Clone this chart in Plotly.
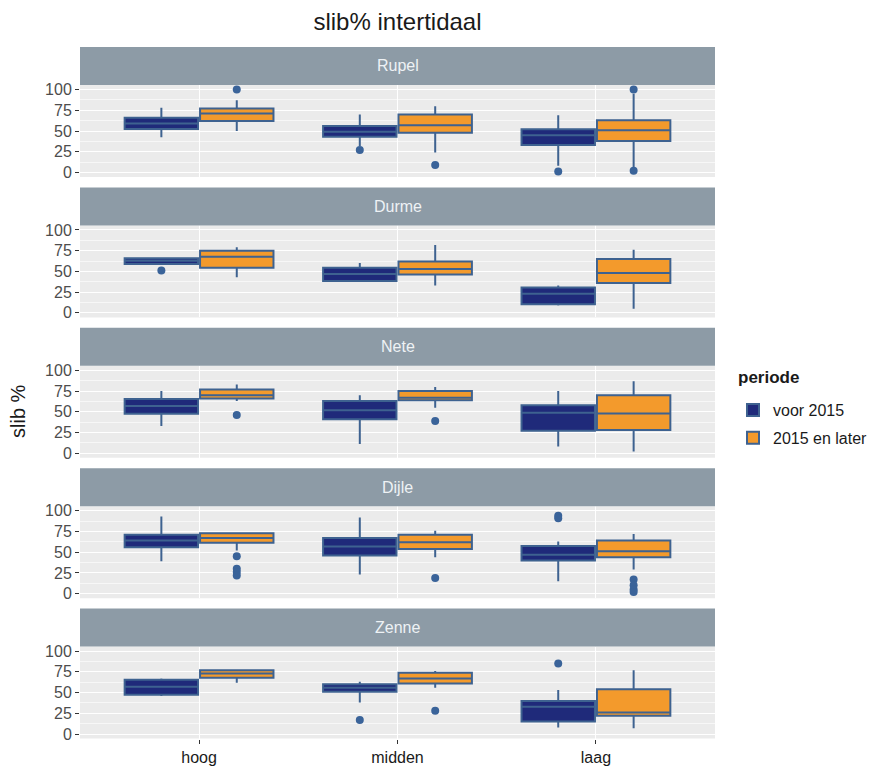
import plotly.graph_objects as go
from plotly.subplots import make_subplots

# Facets, x categories and groups
rivers = ["Rupel", "Durme", "Nete", "Dijle", "Zenne"]
zones = ["hoog", "midden", "laag"]
periods = ["voor 2015", "2015 en later"]
y_ticks = [0, 25, 50, 75, 100]

# Box statistics per river (rows) and zone (columns: hoog, midden, laag)
voor_lower = [[42.5, 32, 8], [59, 38.4, 9], [33, 11, 8], [39, 23, 15], [46, 38, 8]]
voor_q1 = [[52.5, 43, 33], [59, 38.4, 10.4], [47.5, 41, 27], [56, 46, 40], [47.5, 51, 15]]
voor_median = [[59, 49, 45], [63, 47, 23], [57, 52, 49], [64, 57, 47], [57, 56, 33]]
voor_q3 = [[66, 56, 52], [66, 54.5, 30.5], [65.5, 63, 58], [71, 67, 57.5], [65.5, 60, 40]]
voor_upper = [[78, 70, 69], [67, 60, 33], [75, 70, 75], [93, 92, 63], [67, 63, 53]]
voor_outliers = [
    [[], [27], [1]],
    [[51], [], []],
    [[], [], []],
    [[], [], [94, 91]],
    [[], [17], [85]],
]

later_lower = [[50, 24, 5], [43, 33, 5], [63, 55, 2], [52, 44, 29], [62, 56, 7]]
later_q1 = [[62, 48, 38], [54.5, 46.4, 36], [66, 64, 28], [61.5, 54, 44], [68, 61, 22]]
later_median = [[71, 57, 51], [67.6, 53, 48], [70, 67, 48], [67, 62, 51], [73, 67, 26]]
later_q3 = [[77, 70, 63], [75, 62, 65], [77, 75, 70], [73, 71, 64], [77, 74, 54]]
later_upper = [[87, 80, 95], [79, 82, 76], [83, 80, 87], [74, 76, 72], [78, 76, 77]]
later_outliers = [
    [[100], [9], [100, 2]],
    [[], [], []],
    [[46], [39], []],
    [[45, 30, 26, 22], [19], [17, 10, 5, 2]],
    [[], [28], []],
]

FILL = {"voor 2015": "#1f2a7a", "2015 en later": "#f39a2c"}
EDGE = "#3e6290"
POINT = "#3a6399"
STRIP_BG = "#8d9ba6"
PANEL_BG = "#ebebeb"
FONT = "Liberation Sans, Arial, sans-serif"

W, H = 882, 766
# panel geometry in pixels
LEFT, RIGHT = 80, 715
PANEL_TOP0, PANEL_H, STEP, STRIP_H = 85, 92, 140.4, 38

DODGE = 0.19
BOX_W = 0.37

stats = {
    "voor 2015": (voor_lower, voor_q1, voor_median, voor_q3, voor_upper, voor_outliers, -DODGE),
    "2015 en later": (later_lower, later_q1, later_median, later_q3, later_upper, later_outliers, DODGE),
}

fig = make_subplots(rows=len(rivers), cols=1)

for r, river in enumerate(rivers):
    row = r + 1
    for period in periods:
        lo, q1, med, q3, up, outs, off = stats[period]
        xs = [i + 1 + off for i in range(len(zones))]
        fig.add_trace(
            go.Box(
                x=xs,
                q1=q1[r], median=med[r], q3=q3[r],
                lowerfence=lo[r], upperfence=up[r],
                width=BOX_W,
                whiskerwidth=0,
                fillcolor=FILL[period],
                line=dict(color=EDGE, width=2),
                name=period,
                legendgroup=period,
                showlegend=(r == 0),
                boxpoints=False,
            ),
            row=row, col=1,
        )
        px, py = [], []
        for i, vals in enumerate(outs[r]):
            for v in vals:
                px.append(i + 1 + off)
                py.append(v)
        if px:
            fig.add_trace(
                go.Scatter(
                    x=px, y=py, mode="markers",
                    marker=dict(color=POINT, size=8),
                    showlegend=False, legendgroup=period,
                ),
                row=row, col=1,
            )

shapes = []
annotations = []
for r, river in enumerate(rivers):
    top = PANEL_TOP0 + STEP * r
    bottom = top + PANEL_H
    dom = [1 - bottom / H, 1 - top / H]
    xa = "xaxis" if r == 0 else f"xaxis{r + 1}"
    ya = "yaxis" if r == 0 else f"yaxis{r + 1}"
    last = r == len(rivers) - 1
    fig.layout[xa].update(
        domain=[LEFT / W, RIGHT / W],
        range=[0.4, 3.6],
        tickvals=[1, 2, 3],
        ticktext=zones,
        showticklabels=last,
        ticks="outside" if last else "",
        ticklen=4, tickwidth=1.2, tickcolor="#333333",
        tickfont=dict(size=16, color="#1a1a1a", family=FONT),
        showgrid=True, gridcolor="white", gridwidth=1.2,
        zeroline=False, showline=False, automargin=False,
        anchor=ya.replace("axis", ""),
    )
    fig.layout[ya].update(
        domain=dom,
        range=[-5.5, 105.5],
        tickvals=y_ticks,
        ticks="outside", ticklen=4, tickwidth=1.2, tickcolor="#333333",
        tickfont=dict(size=16, color="#4d4d4d", family=FONT),
        showgrid=True, gridcolor="white", gridwidth=1.2,
        minor=dict(tickvals=[12.5, 37.5, 62.5, 87.5], showgrid=True,
                   gridcolor="#f7f7f7", gridwidth=0.6, ticks=""),
        zeroline=False, showline=False, automargin=False,
        anchor=xa.replace("axis", ""),
    )
    # panel background
    shapes.append(dict(
        type="rect", xref="paper", yref="paper", layer="below",
        x0=LEFT / W, x1=RIGHT / W, y0=dom[0], y1=dom[1],
        fillcolor=PANEL_BG, line=dict(width=0),
    ))
    # facet strip
    shapes.append(dict(
        type="rect", xref="paper", yref="paper",
        x0=LEFT / W, x1=RIGHT / W,
        y0=1 - top / H, y1=1 - (top - STRIP_H) / H,
        fillcolor=STRIP_BG, line=dict(width=0),
    ))
    annotations.append(dict(
        text=river, xref="paper", yref="paper",
        x=(LEFT + RIGHT) / 2 / W, y=1 - (top - STRIP_H / 2) / H,
        showarrow=False, xanchor="center", yanchor="middle",
        font=dict(size=16, color="#eef2f5", family=FONT),
    ))

# y-axis title shared by all facets
annotations.append(dict(
    text="slib %", xref="paper", yref="paper",
    x=18 / W, y=1 - 411 / H, textangle=-90,
    showarrow=False, xanchor="center", yanchor="middle",
    font=dict(size=20, color="#1a1a1a", family=FONT),
))
# legend heading
annotations.append(dict(
    text="<b>periode</b>", xref="paper", yref="paper",
    x=736 / W, y=1 - 377 / H,
    showarrow=False, xanchor="left", yanchor="middle",
    font=dict(size=17, color="#1a1a1a", family=FONT),
))

fig.update_layout(
    width=W, height=H,
    margin=dict(l=0, r=0, t=0, b=0),
    paper_bgcolor="white",
    plot_bgcolor="rgba(0,0,0,0)",
    boxmode="overlay",
    title=dict(
        text="slib% intertidaal", x=(LEFT + RIGHT) / 2 / W, xanchor="center",
        y=1 - 22 / H, yanchor="middle",
        font=dict(size=24, color="#1a1a1a", family=FONT),
    ),
    legend=dict(
        x=733 / W, y=1 - 393 / H, xanchor="left", yanchor="top",
        font=dict(size=16, color="#1a1a1a", family=FONT),
        tracegroupgap=4,
        bgcolor="rgba(0,0,0,0)",
    ),
    shapes=shapes,
    annotations=annotations,
)

fig.write_html("out.html")
